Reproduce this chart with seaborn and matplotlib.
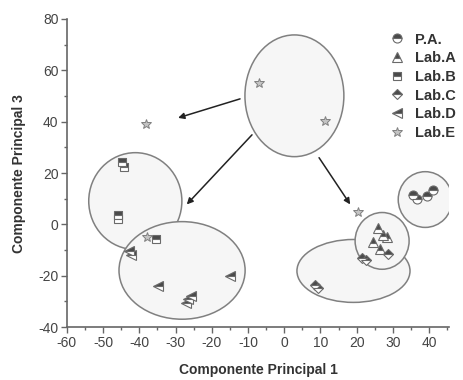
import matplotlib
matplotlib.use("Agg")
import matplotlib.pyplot as plt
import seaborn as sns
from matplotlib.patches import Ellipse
from matplotlib.ticker import MultipleLocator

# data
labs = ['P.A.', 'Lab.A', 'Lab.B', 'Lab.C', 'Lab.D', 'Lab.E']
pa_x = [35.5, 36.7, 39.4, 41.1]
pa_y = [11.3, 10.1, 10.9, 13.6]
laba_x = [26.0, 28.4, 24.5, 26.3, 27.3]
laba_y = [-1.5, -5.0, -7.0, -9.5, -4.0]
labb_x = [-44.8, -44.2, -46.0, -46.0, -35.5]
labb_y = [24.5, 22.5, 3.5, 2.0, -5.5]
labc_x = [8.5, 9.2, 21.5, 22.5, 28.5]
labc_y = [-23.5, -24.8, -13.0, -13.8, -11.5]
labd_x = [-42.8, -42.3, -34.8, -26.5, -25.8, -27.0, -15.0]
labd_y = [-10.5, -12.0, -24.0, -29.0, -28.0, -30.5, -20.0]
labe_x = [-7.0, 11.3, -38.2, 20.4, -38.0]
labe_y = [55.0, 40.4, 39.0, 5.0, -5.0]

# ellipses: center x, center y, width, height
ell_cx = [2.8, -41.1, -28.2, 19.1, 27.0, 38.9]
ell_cy = [50.1, 9.1, -17.9, -18.1, -6.4, 9.7]
ell_w = [27.3, 25.7, 34.8, 31.2, 14.9, 14.9]
ell_h = [47.4, 37.7, 38.0, 24.5, 22.1, 21.7]

# arrows: start -> end
arr_x0 = [-12.2, -8.9, 9.6]
arr_y0 = [48.9, 34.9, 26.0]
arr_x1 = [-29.3, -26.9, 18.2]
arr_y1 = [41.5, 7.8, 7.8]

sns.set_style('ticks')
plt.rcParams['font.family'] = ['Liberation Sans', 'DejaVu Sans']
plt.rcParams['axes.unicode_minus'] = False

fig = plt.figure(figsize=(4.64, 3.80), dpi=100)
ax = fig.add_axes([0.144, 0.139, 0.824, 0.811])

for cx, cy, w, h in zip(ell_cx, ell_cy, ell_w, ell_h):
    ax.add_patch(Ellipse((cx, cy), w, h, facecolor='#f6f6f6',
                         edgecolor='#808080', lw=1.1, zorder=1))

for x0, y0, x1, y1 in zip(arr_x0, arr_y0, arr_x1, arr_y1):
    ax.annotate('', xy=(x1, y1), xytext=(x0, y0),
                arrowprops=dict(arrowstyle='-|>', color='#222222', lw=1.1,
                                mutation_scale=9, shrinkA=0, shrinkB=0),
                zorder=2)

series = [(pa_x, pa_y, 'o'), (laba_x, laba_y, '^'), (labb_x, labb_y, 's'),
          (labc_x, labc_y, 'D'), (labd_x, labd_y, '<'), (labe_x, labe_y, '*')]

for (xs, ys, m), lab in zip(series, labs):
    if m == '*':
        sns.lineplot(x=xs, y=ys, ax=ax, estimator=None, sort=False,
                     linestyle='', marker=m, markersize=7, color='#c4c4c4',
                     markeredgecolor='#808080', markeredgewidth=0.7,
                     label=lab, zorder=3)
    else:
        ms = 5.5 if m in ('s', 'D') else 6.5
        sns.lineplot(x=xs, y=ys, ax=ax, estimator=None, sort=False,
                     linestyle='', marker=m, markersize=ms, fillstyle='top',
                     color='#4a4a4a', markerfacecoloralt='white',
                     markeredgecolor='#6a6a6a', markeredgewidth=0.8,
                     label=lab, zorder=3)

ax.set_xlim(-60, 45.5)
ax.set_ylim(-40, 80)
ax.xaxis.set_major_locator(MultipleLocator(10))
ax.xaxis.set_minor_locator(MultipleLocator(5))
ax.yaxis.set_major_locator(MultipleLocator(20))
ax.yaxis.set_minor_locator(MultipleLocator(10))
ax.tick_params(which='major', length=4, width=1, color='#666666',
               labelsize=10, labelcolor='#444444', pad=2)
ax.tick_params(which='minor', length=2.5, width=1, color='#666666')
for s in ['left', 'bottom']:
    ax.spines[s].set_color('#666666')
    ax.spines[s].set_linewidth(1.2)
sns.despine(ax=ax)

ax.set_xlabel('Componente Principal 1', fontsize=10, fontweight='bold',
              color='#333333', labelpad=10)
ax.set_ylabel('Componente Principal 3', fontsize=10, fontweight='bold',
              color='#333333', labelpad=9)

leg = ax.legend(loc='upper left', bbox_to_anchor=(0.83, 0.975), frameon=False,
                handlelength=1.0, handletextpad=0.7, labelspacing=0.32,
                borderaxespad=0, prop={'weight': 'bold', 'size': 10.5})
for t in leg.get_texts():
    t.set_color('#333333')

fig.savefig('out.png', dpi=100)
